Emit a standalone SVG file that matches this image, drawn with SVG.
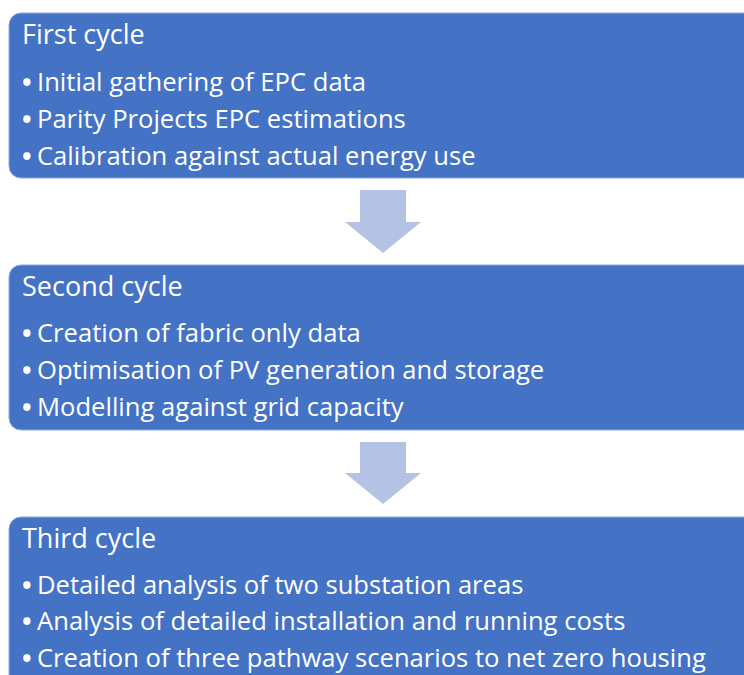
<svg xmlns="http://www.w3.org/2000/svg" width="744" height="675" viewBox="0 0 744 675">
<style>
.box{fill:#4472C4;stroke:#8FAADC;stroke-width:1}
.arrow{fill:#B4C3E4}
.t{font-family:"Open Sans","Liberation Sans",sans-serif;fill:#FFFFFF}
.h{font-size:27px}
.b{font-size:25.6px}
.bul{font-weight:bold}
</style>
<rect width="744" height="675" fill="#FFFFFF"/>
<g id="connectors">
<path class="arrow" d="M360,190 H406 V222 H421 L383,253 L345,222 H360 Z"/>
<path class="arrow" d="M360,442 H406 V473 H421 L383,504 L345,473 H360 Z"/>
</g>
<g id="first-cycle">
<rect class="box" x="9" y="13" width="760" height="165" rx="12"/>
<text class="t h" x="22" y="44">First cycle</text>
<text class="t b" x="22" y="91"><tspan class="bul">•</tspan><tspan x="37">Initial gathering of EPC data</tspan></text>
<text class="t b" x="22" y="128"><tspan class="bul">•</tspan><tspan x="37">Parity Projects EPC estimations</tspan></text>
<text class="t b" x="22" y="165"><tspan class="bul">•</tspan><tspan x="37">Calibration against actual energy use</tspan></text>
</g>
<g id="second-cycle">
<rect class="box" x="9" y="265" width="760" height="165" rx="12"/>
<text class="t h" x="22" y="296">Second cycle</text>
<text class="t b" x="22" y="342"><tspan class="bul">•</tspan><tspan x="37">Creation of fabric only data</tspan></text>
<text class="t b" x="22" y="379"><tspan class="bul">•</tspan><tspan x="37">Optimisation of PV generation and storage</tspan></text>
<text class="t b" x="22" y="416"><tspan class="bul">•</tspan><tspan x="37">Modelling against grid capacity</tspan></text>
</g>
<g id="third-cycle">
<rect class="box" x="9" y="517" width="760" height="200" rx="12"/>
<text class="t h" x="22" y="548">Third cycle</text>
<text class="t b" x="22" y="594"><tspan class="bul">•</tspan><tspan x="37">Detailed analysis of two substation areas</tspan></text>
<text class="t b" x="22" y="630"><tspan class="bul">•</tspan><tspan x="37">Analysis of detailed installation and running costs</tspan></text>
<text class="t b" x="22" y="667"><tspan class="bul">•</tspan><tspan x="37">Creation of three pathway scenarios to net zero housing</tspan></text>
</g>
</svg>
